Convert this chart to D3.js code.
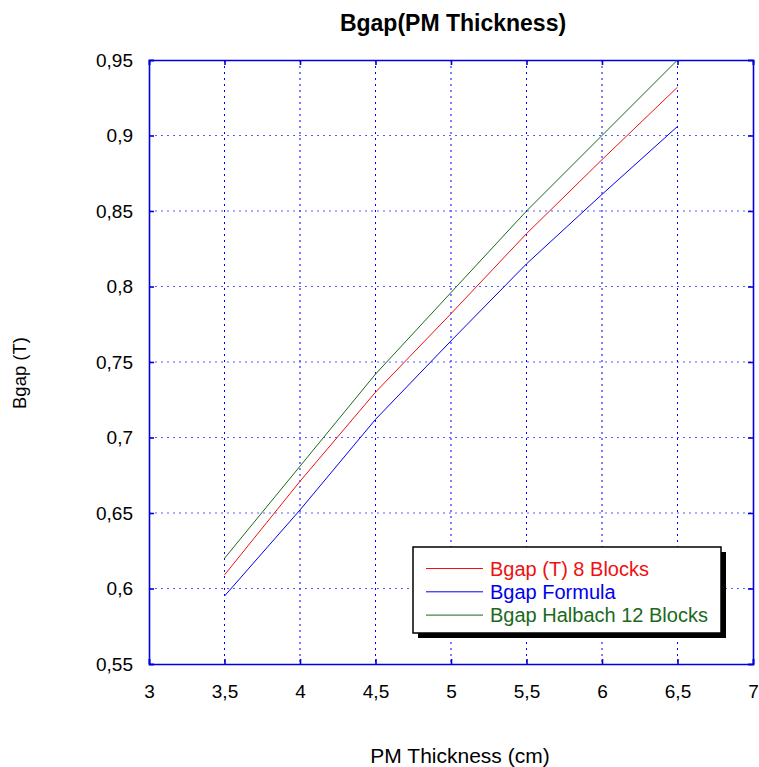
<!DOCTYPE html>
<html>
<head>
<meta charset="utf-8">
<script src="https://cdn.jsdelivr.net/npm/d3@7"></script>
<style>
  body { margin: 0; background: #fff; }
  svg { font-family: "Liberation Sans", Arial, sans-serif; }
</style>
</head>
<body>
<script>
// data
const thickness = [3.5, 4, 4.5, 5, 5.5, 6, 6.5]
const blocks8 = [0.609, 0.671, 0.730, 0.782, 0.835, 0.884, 0.932]
const formula = [0.595, 0.652, 0.712, 0.764, 0.815, 0.861, 0.906]
const halbach12 = [0.620, 0.681, 0.742, 0.796, 0.850, 0.900, 0.950]
const seriesNames = ["Bgap (T) 8 Blocks", "Bgap Formula", "Bgap Halbach 12 Blocks"]
const xTicks = [3, 3.5, 4, 4.5, 5, 5.5, 6, 6.5, 7]
const yTicks = [0.55, 0.6, 0.65, 0.7, 0.75, 0.8, 0.85, 0.9, 0.95]

const w = 759
const h = 767
const padL = 149, padR = 753, padT = 60, padB = 664

const svg = d3.select("body")
    .append("svg")
    .attr("width", w)
    .attr("height", h)

const xScale = d3.scaleLinear().domain([3, 7]).range([padL, padR])
const yScale = d3.scaleLinear().domain([0.55, 0.95]).range([padB, padT])

const comma = v => String(+v.toFixed(2)).replace(".", ",")

// grid
svg.append("g").selectAll("line")
    .data(xTicks.slice(1, -1))
    .enter().append("line")
    .attr("x1", d => xScale(d)).attr("x2", d => xScale(d))
    .attr("y1", padT).attr("y2", padB)
    .attr("stroke", "#0000ff")
    .attr("stroke-dasharray", "2,4")

svg.append("g").selectAll("line")
    .data(yTicks.slice(1, -1))
    .enter().append("line")
    .attr("x1", padL).attr("x2", padR)
    .attr("y1", d => yScale(d)).attr("y2", d => yScale(d))
    .attr("stroke", "#3333ff")
    .attr("stroke-opacity", 0.8)
    .attr("stroke-dasharray", "2,4")

// axes
const xAxis = d3.axisBottom(xScale).tickValues(xTicks).tickSize(-5).tickPadding(21).tickFormat(comma)
const yAxis = d3.axisLeft(yScale).tickValues(yTicks).tickSize(-5).tickPadding(16).tickFormat(comma)

svg.append("g")
    .attr("transform", "translate(0," + padB + ")")
    .call(xAxis)
svg.append("g")
    .attr("transform", "translate(" + padL + ",0)")
    .call(yAxis)
svg.append("g")
    .attr("transform", "translate(0," + padT + ")")
    .call(d3.axisTop(xScale).tickValues(xTicks).tickSize(-5).tickFormat(""))
svg.append("g")
    .attr("transform", "translate(" + padR + ",0)")
    .call(d3.axisRight(yScale).tickValues(yTicks).tickSize(-5).tickFormat(""))

svg.selectAll(".domain, .tick line").attr("stroke", "#0000dd").attr("stroke-width", 1.6)
svg.selectAll(".tick text").attr("font-size", 19).attr("fill", "#000")
    .attr("font-family", "Liberation Sans, Arial, sans-serif")

// lines
const colors = ["#ee1111", "#0000ee", "#1a6a1a"]
const allSeries = [blocks8, formula, halbach12]
const line = d3.line()
    .x((d, i) => xScale(thickness[i]))
    .y(d => yScale(d))

svg.append("g").selectAll("path")
    .data(allSeries)
    .enter().append("path")
    .attr("d", line)
    .attr("fill", "none")
    .attr("stroke", (d, i) => colors[i])
    .attr("stroke-width", 1)

// titles
svg.append("text")
    .attr("x", 453).attr("y", 31)
    .attr("text-anchor", "middle")
    .attr("font-size", 23).attr("font-weight", "bold")
    .text("Bgap(PM Thickness)")

svg.append("text")
    .attr("x", 460).attr("y", 763)
    .attr("text-anchor", "middle")
    .attr("font-size", 21)
    .text("PM Thickness (cm)")

svg.append("text")
    .attr("transform", "translate(26,373) rotate(-90)")
    .attr("text-anchor", "middle")
    .attr("font-size", 18.5)
    .text("Bgap (T)")

// legend
const lg = svg.append("g").attr("transform", "translate(413,547)")
lg.append("rect").attr("x", 5).attr("y", 5).attr("width", 308).attr("height", 86).attr("fill", "#000")
lg.append("rect").attr("width", 308).attr("height", 86).attr("fill", "#fff").attr("stroke", "#000").attr("stroke-width", 1.5)

const items = lg.selectAll(".item")
    .data(seriesNames)
    .enter().append("g")
    .attr("transform", (d, i) => "translate(0," + (21.5 + i * 23.3) + ")")
items.append("line")
    .attr("x1", 13).attr("x2", 70)
    .attr("stroke", (d, i) => colors[i])
items.append("text")
    .attr("x", 77).attr("y", 7)
    .attr("font-size", 20)
    .attr("fill", (d, i) => colors[i])
    .text(d => d)
</script>
</body>
</html>
